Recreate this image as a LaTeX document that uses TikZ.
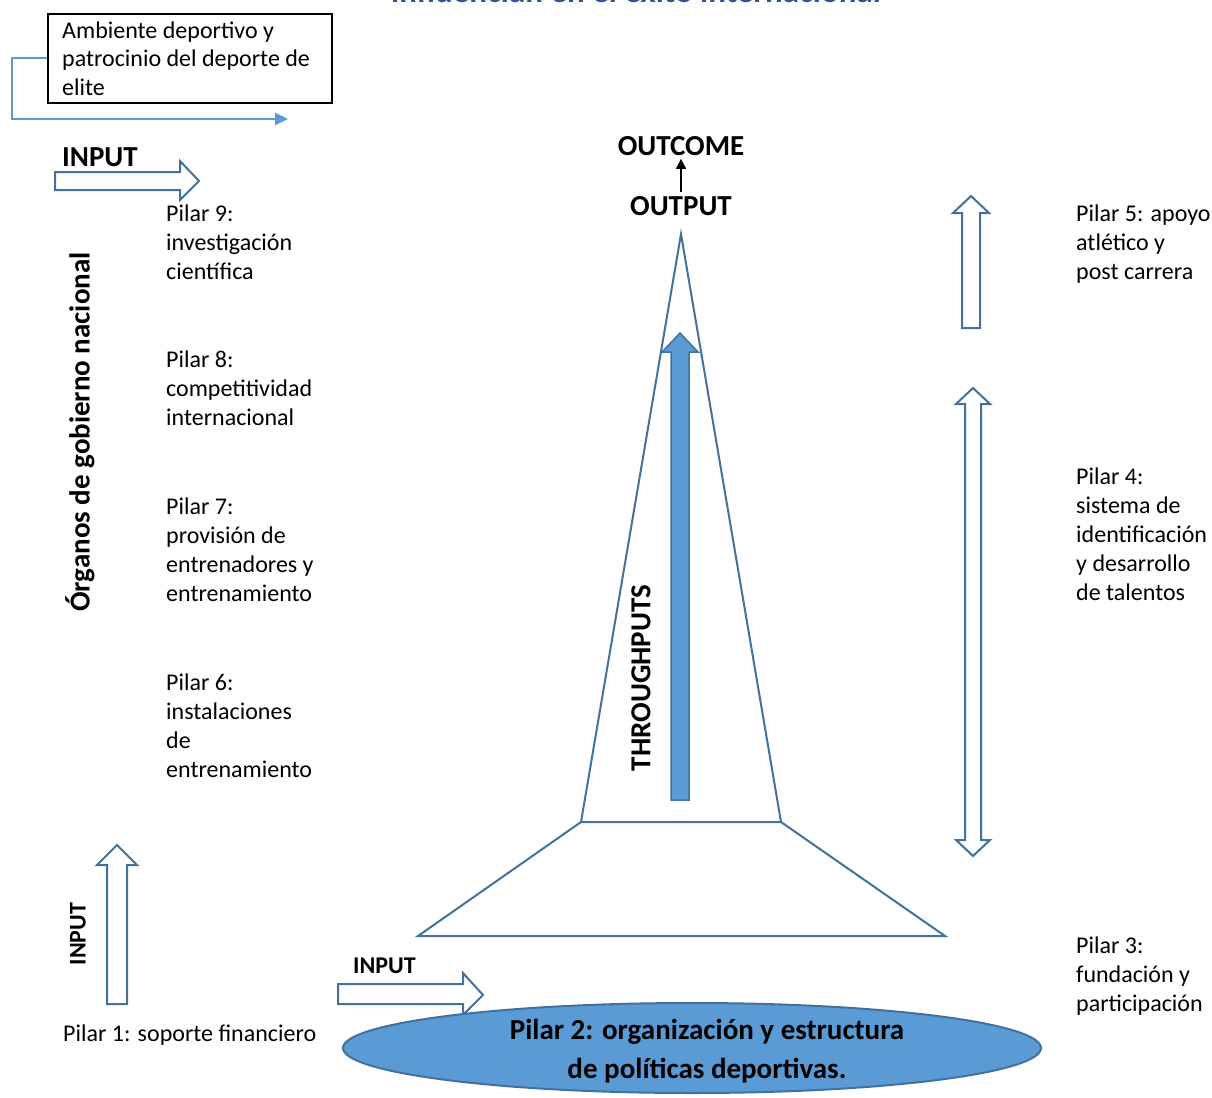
\documentclass[tikz,border=0pt]{standalone}
\usepackage{fontspec}
\setmainfont{Carlito}
\usetikzlibrary{arrows.meta,shapes.geometric}
\definecolor{outblue}{RGB}{65,113,156}
\definecolor{fillblue}{RGB}{91,155,213}
\definecolor{titleblue}{RGB}{46,84,150}
\begin{document}
\begin{tikzpicture}[x=1pt,y=-1pt,
  txt/.style={font=\fontsize{24}{29}\selectfont, align=left, inner sep=0pt, anchor=base west},
  lbl/.style={font=\bfseries\fontsize{29}{35}\selectfont, inner sep=0pt},
  slbl/.style={font=\bfseries\fontsize{24}{29}\selectfont, inner sep=0pt},
  outline/.style={draw=outblue, line width=2pt, line join=miter},
  blockarrow/.style={outline, fill=white},
  conn/.style={draw=fillblue, line width=2pt, -{Triangle[length=13pt,width=12pt]}}]
\useasboundingbox (0,0) rectangle (1212,1097);

% title (cut off at the top)
\node[font=\bfseries\fontsize{33}{39}\selectfont, text=titleblue, inner sep=0pt, anchor=base] (title) at (636,3) {influencian en el éxito internacional};

% top-left box and connector
\node[draw, line width=2pt, minimum width=284pt, minimum height=89pt, inner sep=0pt, anchor=north west] (box) at (47,13) {};
\node[txt] (boxtxt) at (62,96) {Ambiente deportivo y\\patrocinio del deporte de\\elite};
\coordinate (c1) at (288,119);
\draw[conn] (box.west) -- ++(-35,0) |- (c1);

% top INPUT arrow
\draw[blockarrow] (55,172) -- (180,172) -- (180,161) -- (199,181) -- (180,200) -- (180,190) -- (55,190) -- cycle;
\node[lbl, anchor=base west] (in1) at (62,166.5) {INPUT};

% left pillars
\node[txt] (p9) at (166,279) {Pilar 9:\\investigación\\científica};
\node[txt] (p8) at (166,425) {Pilar 8:\\competitividad\\internacional};
\node[txt] (p7) at (166,601) {Pilar 7:\\provisión de\\entrenadores y\\entrenamiento};
\node[txt] (p6) at (166,777) {Pilar 6:\\instalaciones\\de\\entrenamiento};
\node[lbl, rotate=90] (org) at (80,432) {Órganos de gobierno nacional};

% left vertical INPUT arrow
\draw[blockarrow] (107,1004) -- (107,865) -- (97,865) -- (117,845) -- (137,865) -- (127,865) -- (127,1004) -- cycle;
\node[slbl, rotate=90] (in2) at (78,934) {INPUT};
\node[txt] (p1) at (63,1041) {Pilar 1: soporte financiero};

% pyramid
\draw[outline] (418,936) -- (581,822) -- (781,822) -- (945,936) -- cycle;
\draw[outline] (581,822) -- (681,234) -- (781,822);

% throughputs arrow
\draw[draw=outblue, line width=1.5pt, fill=fillblue] (671,800) -- (671,352) -- (662,352) -- (680,333) -- (698,352) -- (689,352) -- (689,800) -- cycle;
\node[lbl, rotate=90] (thr) at (641,678) {THROUGHPUTS};

% output / outcome
\node[lbl, anchor=base] (outcome) at (681,155.5) {OUTCOME};
\node[lbl, anchor=base] (output) at (681,215.5) {OUTPUT};
\draw[line width=1.8pt, -{Triangle[length=10pt,width=10pt]}, shorten <=4pt, shorten >=3pt] (output.north) -- (outcome.south);

% right arrows and pillars
\draw[blockarrow] (962,328) -- (962,213) -- (953,213) -- (971,196) -- (989,213) -- (980,213) -- (980,328) -- cycle;
\draw[blockarrow] (965,404) -- (956,404) -- (973,388) -- (990,404) -- (981,404) -- (981,840) -- (990,840) -- (973,856) -- (956,840) -- (965,840) -- cycle;
\node[txt] (p5) at (1076,279) {Pilar 5: apoyo\\atlético y\\post carrera};
\node[txt] (p4) at (1076,600) {Pilar 4:\\sistema de\\identificación\\y desarrollo\\de talentos};
\node[txt] (p3) at (1076,1011) {Pilar 3:\\fundación y\\participación};

% bottom INPUT arrow and ellipse
\draw[blockarrow] (338,984) -- (463,984) -- (463,973) -- (483,995) -- (463,1015) -- (463,1004) -- (338,1004) -- cycle;
\node[slbl, anchor=base west] (in3) at (353,973) {INPUT};
\node[ellipse, draw=outblue, line width=2pt, fill=fillblue, minimum width=698pt, minimum height=90pt, inner sep=0pt] (p2) at (692,1048) {};
\node[font=\bfseries\fontsize{29}{39}\selectfont, align=center, inner sep=0pt, anchor=base] (p2txt) at (707,1078.5) {Pilar 2: organización y estructura\\de políticas deportivas.};
\end{tikzpicture}
\end{document}
